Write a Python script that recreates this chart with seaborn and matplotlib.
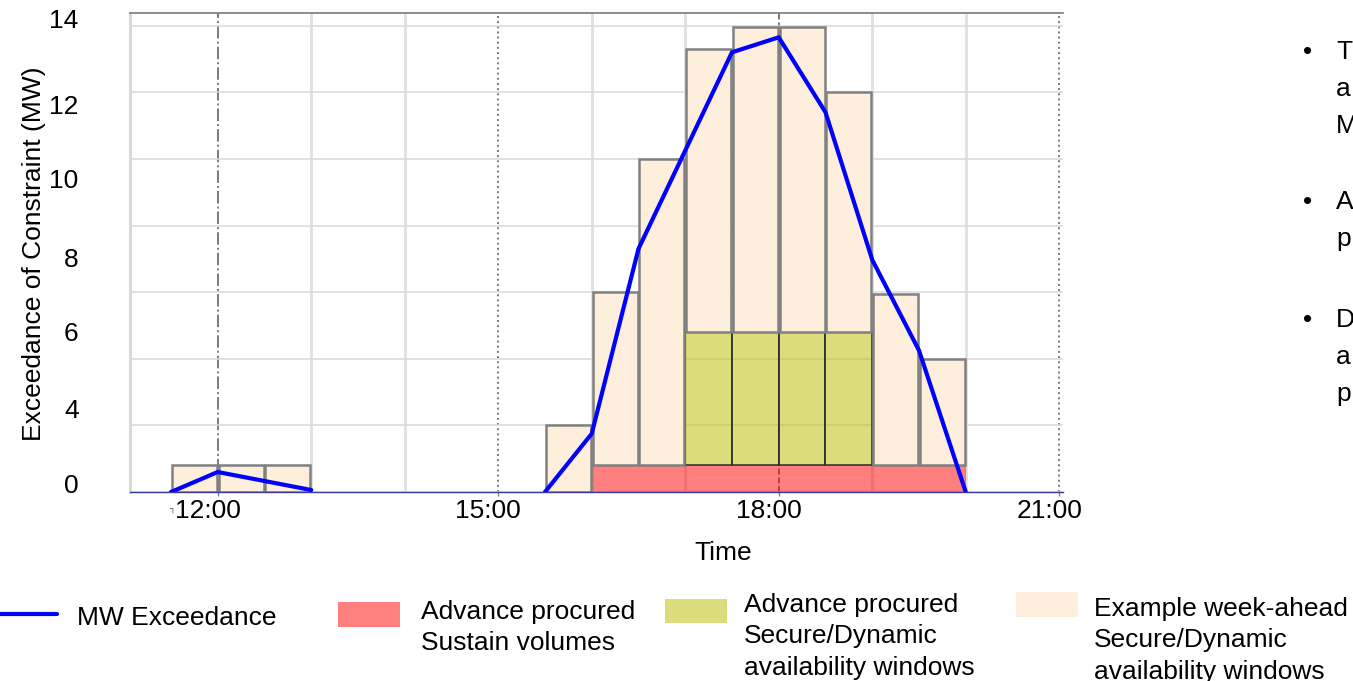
import numpy as np
import pandas as pd
import matplotlib
matplotlib.use("Agg")
import matplotlib.pyplot as plt
import matplotlib.transforms as mtransforms
from matplotlib.lines import Line2D
from matplotlib.patches import Rectangle
from matplotlib.ticker import MultipleLocator, FixedLocator
import seaborn as sns

# Half-hour availability windows (start time of each window)
window_starts = ["11:30", "12:00", "12:30", "15:30", "16:00", "16:30",
                 "17:00", "17:30", "18:00", "18:30", "19:00", "19:30"]
# Total height of each window stack (MW)
week_ahead_total = [0.8, 0.8, 0.8, 2.0, 6.0, 10.0, 13.3, 13.95, 13.95, 12.0, 5.95, 4.0]
# Advance procured Sustain volumes (MW)
sustain_mw = [0, 0, 0, 0, 0.8, 0.8, 0.8, 0.8, 0.8, 0.8, 0.8, 0.8]
# Advance procured Secure/Dynamic windows, stacked on Sustain (MW)
secure_mw = [0, 0, 0, 0, 0, 0, 4.0, 4.0, 4.0, 4.0, 0, 0]

# MW exceedance of the constraint, two separate runs
exceed_times = ["11:30", "12:00", "13:00",
                "15:30", "16:00", "16:30", "17:30", "18:00", "18:30",
                "19:00", "19:30", "20:00"]
exceed_mw = [0.0, 0.6, 0.06,
             0.0, 1.75, 7.3, 13.2, 13.65, 11.4, 6.97, 4.25, 0.0]
exceed_run = [1, 1, 1, 2, 2, 2, 2, 2, 2, 2, 2, 2]

x_tick_labels = ["12:00", "15:00", "18:00", "21:00"]
y_tick_labels = ["0", "4", "6", "8", "10", "12", "14"]

legend_labels = ["MW Exceedance",
                 "Advance procured\nSustain volumes",
                 "Advance procured\nSecure/Dynamic\navailability windows",
                 "Example week-ahead\nSecure/Dynamic\navailability windows"]
side_notes = [["T", "a", "M"], ["A", "p"], ["D", "a", "p"]]

BLUE = "#0000FF"
RED = (1.0, 0.0, 0.0, 0.5)
GREEN = (188 / 255, 188 / 255, 0.0, 0.51)
BEIGE = "#FEEEDC"
FS = 19


def hours(t):
    h, m = t.split(":")
    return int(h) + int(m) / 60.0


sns.set_theme(style="white")
plt.rcParams["font.family"] = ["Liberation Sans", "DejaVu Sans"]

W, H = 1353, 681
fig = plt.figure(figsize=(W / 100, H / 100), dpi=100)
ax = fig.add_axes([130 / W, 1 - 492 / H, 933 / W, 479 / H])

starts = np.array([hours(t) for t in window_starts])
centers = starts + 0.25
tot = np.array(week_ahead_total)
sus = np.array(sustain_mw, dtype=float)
sec = np.array(secure_mw, dtype=float)

# Sustain volumes (red band)
m = sus > 0
ax.bar(centers[m], sus[m], width=0.5, color=RED, linewidth=0, zorder=2)
# Advance procured Secure/Dynamic windows
m = sec > 0
ax.bar(centers[m], sec[m], bottom=sus[m], width=0.5, facecolor=GREEN,
       edgecolor="#2b2b2b", linewidth=1.1, zorder=3)
# Example week-ahead windows sit on top of whatever is already procured
base = sus + sec
ax.bar(centers, tot - base, bottom=base, width=0.48, facecolor=BEIGE,
       edgecolor="#808080", linewidth=1.8, zorder=4)

# MW exceedance line
line_df = pd.DataFrame({"time": [hours(t) for t in exceed_times],
                        "mw": exceed_mw, "run": exceed_run})
sns.lineplot(data=line_df, x="time", y="mw", units="run", estimator=None,
             sort=False, color=BLUE, linewidth=3.0, ax=ax, zorder=6)

# Axes limits and ticks
ax.set_xlim(11.062, 21.04)
ax.set_ylim(0, 14.38)
major_x = [hours(t) for t in x_tick_labels]
ax.xaxis.set_major_locator(FixedLocator(major_x))
ax.set_xticklabels(x_tick_labels)
ax.xaxis.set_minor_locator(MultipleLocator(1))
ax.set_yticks([0.25, 2.5, 4.82, 7.03, 9.4, 11.63, 14.2])
ax.set_yticklabels(y_tick_labels)
ax.yaxis.set_minor_locator(MultipleLocator(2))

ax.tick_params(axis="x", which="major", length=3, width=1, color="#808080",
               direction="out", pad=2, labelsize=FS, labelcolor="black",
               bottom=True)
ax.tick_params(axis="x", which="minor", length=0)
ax.tick_params(axis="y", which="both", length=0)
ax.tick_params(axis="y", which="major", pad=37, labelsize=FS, labelcolor="black")

# Grid: light hourly and 2 MW lines, styled lines at the 3-hour marks
ax.set_axisbelow(True)
ax.grid(False)
ax.grid(axis="y", which="minor", color="#d9d9d9", linewidth=1.1)
ax.grid(axis="x", which="minor", color="#e2e2e2", linewidth=2.2)
ax.grid(axis="x", which="major", color="#7a7a7a", linewidth=1.4)
for gl, ls in zip(ax.xaxis.get_gridlines(), ["-.", ":", (0, (3, 1.5)), ":"]):
    gl.set_linestyle(ls)

for side in ["top", "left", "bottom", "right"]:
    ax.spines[side].set_visible(True)
ax.spines["top"].set_color("#7a7a7a")
ax.spines["top"].set_linewidth(1.2)
ax.spines["left"].set_color("#d6d6d6")
ax.spines["left"].set_linewidth(2.0)
ax.spines["bottom"].set_color("#3a3a9a")
ax.spines["bottom"].set_linewidth(1.0)
ax.spines["bottom"].set_zorder(7)
ax.spines["right"].set_visible(False)

ax.set_xlabel("Time", fontsize=FS, color="black")
ax.xaxis.set_label_coords((723 - 130) / 933, -0.102)
ax.xaxis.label.set_va("top")
ax.set_ylabel("Exceedance of Constraint (MW)", fontsize=FS, color="black")
ax.yaxis.set_label_coords(-0.09, 0.498)

shift = mtransforms.ScaledTranslation(-10 / 100, 0, fig.dpi_scale_trans)
for lbl in ax.get_xticklabels():
    lbl.set_transform(lbl.get_transform() + shift)

# Pixel-based transform for the annotations around the plot
px = mtransforms.Affine2D().scale(1 / W, -1 / H).translate(0, 1) + fig.transFigure

fig.text(172, 511, "\u2510", transform=px, fontsize=6, color="#333333",
         ha="center", va="center")


def stacked_text(x, baseline, text, step):
    for i, s in enumerate(text.split("\n")):
        fig.text(x, baseline + i * step, s, transform=px, fontsize=FS,
                 color="black", ha="left", va="baseline")


# Legend row
fig.add_artist(Line2D([0, 57], [613.5, 613.5], transform=px, color=BLUE,
                      linewidth=3.0))
stacked_text(77, 625, legend_labels[0], 31)
fig.add_artist(Rectangle((338, 602), 62, 25, transform=px, facecolor=RED,
                         edgecolor="none"))
stacked_text(421, 619, legend_labels[1], 31)
fig.add_artist(Rectangle((665, 599), 62, 24, transform=px, facecolor=GREEN,
                         edgecolor="none"))
stacked_text(744, 612, legend_labels[2], 31.3)
fig.add_artist(Rectangle((1016, 592), 62, 25, transform=px, facecolor=BEIGE,
                         edgecolor="none"))
stacked_text(1094, 616, legend_labels[3], 31.3)

# Bulleted notes on the right
note_baselines = [59, 209, 327]
for top, lines in zip(note_baselines, side_notes):
    fig.text(1308, top, "\u2022", transform=px, fontsize=FS, color="black",
             ha="center", va="baseline")
    for i, s in enumerate(lines):
        fig.text(1336, top + i * 37, s, transform=px, fontsize=FS,
                 color="black", ha="left", va="baseline")

fig.savefig("out.png", dpi=100)
